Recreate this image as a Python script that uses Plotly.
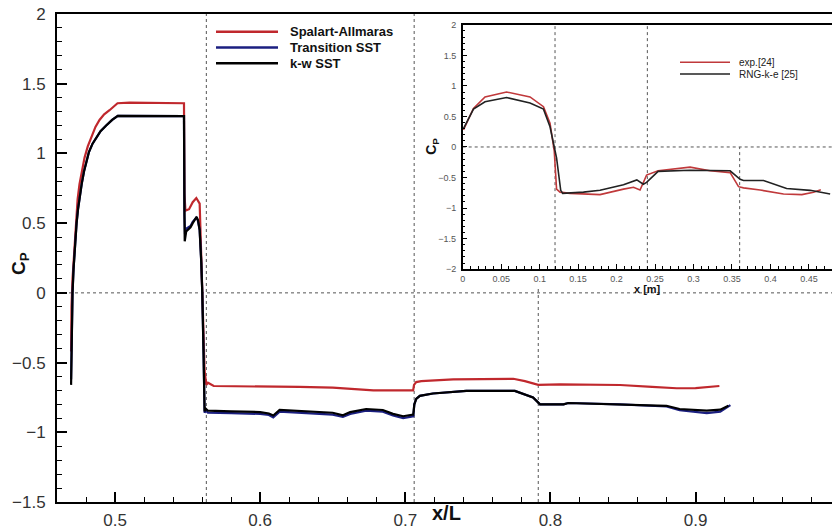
import plotly.graph_objects as go

# ---- main chart: pressure coefficient along the body (x/L) ----
sa_x = [0.4697, 0.4700, 0.4707, 0.4714, 0.4722, 0.4732, 0.4742, 0.4755, 0.4772, 0.4790, 0.4812,
        0.4836, 0.4865, 0.4893, 0.4925, 0.4962, 0.5017,
        0.5100, 0.5300, 0.5475, 0.5478, 0.5485, 0.5510, 0.5535, 0.5560, 0.5583, 0.5594, 0.5606,
        0.5617, 0.5629, 0.5640, 0.5680, 0.6000, 0.6270, 0.6500, 0.6780, 0.7054, 0.7060, 0.7075,
        0.7110, 0.7330, 0.7744, 0.7824, 0.7916, 0.8066, 0.8480, 0.8700, 0.8870, 0.9000, 0.9120,
        0.9164]
sa_y = [-0.42, -0.10, 0.10, 0.22, 0.40, 0.56, 0.67, 0.78, 0.88, 0.97, 1.05,
        1.12, 1.19, 1.24, 1.28, 1.31, 1.36,
        1.365, 1.36, 1.36, 0.71, 0.59, 0.60, 0.65, 0.68, 0.64, 0.26, -0.16,
        -0.56, -0.66, -0.645, -0.668, -0.670, -0.675, -0.680, -0.699, -0.699, -0.660, -0.640,
        -0.633, -0.621, -0.616, -0.633, -0.660, -0.656, -0.661, -0.675, -0.684, -0.683, -0.675,
        -0.668]

tsst_x = [0.4697, 0.4700, 0.4707, 0.4714, 0.4724, 0.4735, 0.4745, 0.4755, 0.4770, 0.4786,
          0.4801, 0.4820, 0.4845, 0.4870, 0.4900, 0.4939, 0.4980, 0.5019,
          0.5300, 0.5475, 0.5478, 0.5482, 0.5490, 0.5520, 0.5535, 0.5560, 0.5570, 0.5583,
          0.5594, 0.5601, 0.5610, 0.5617, 0.5625, 0.5640, 0.5800, 0.6000, 0.6060, 0.6090,
          0.6134, 0.6300, 0.6500, 0.6570, 0.6620, 0.6730, 0.6845, 0.6915, 0.6985, 0.7055,
          0.7062, 0.7075, 0.7100, 0.7190, 0.7330, 0.7420, 0.7755, 0.7810, 0.7880, 0.7928,
          0.8090, 0.8123, 0.8480, 0.8800, 0.8890, 0.9077, 0.9170, 0.9240]
tsst_y = [-0.62, -0.30, 0.00, 0.17, 0.36, 0.50, 0.60, 0.68, 0.78, 0.87,
          0.94, 1.01, 1.07, 1.11, 1.16, 1.20, 1.24, 1.27,
          1.27, 1.268, 0.55, 0.42, 0.46, 0.48, 0.51, 0.54, 0.52, 0.45,
          0.22, 0.00, -0.45, -0.86, -0.845, -0.860, -0.863, -0.868, -0.876, -0.893,
          -0.852, -0.862, -0.873, -0.890, -0.868, -0.845, -0.852, -0.880, -0.898, -0.885,
          -0.800, -0.760, -0.739, -0.722, -0.710, -0.703, -0.703, -0.722, -0.750, -0.800,
          -0.800, -0.790, -0.800, -0.815, -0.842, -0.862, -0.852, -0.805]

kw_x = [0.4697, 0.4700, 0.4707, 0.4714, 0.4724, 0.4735, 0.4745, 0.4755, 0.4770, 0.4786,
        0.4801, 0.4820, 0.4845, 0.4870, 0.4900, 0.4939, 0.4980, 0.5019,
        0.5300, 0.5475, 0.5478, 0.5480, 0.5490, 0.5520, 0.5535, 0.5562, 0.5572, 0.5583,
        0.5594, 0.5601, 0.5610, 0.5617, 0.5625, 0.5640, 0.5800, 0.6000, 0.6060, 0.6090,
        0.6134, 0.6300, 0.6500, 0.6570, 0.6620, 0.6730, 0.6845, 0.6915, 0.6985, 0.7055,
        0.7062, 0.7075, 0.7100, 0.7190, 0.7330, 0.7420, 0.7755, 0.7810, 0.7880, 0.7928,
        0.8090, 0.8123, 0.8480, 0.8800, 0.8890, 0.9077, 0.9170, 0.9226]
kw_y = [-0.66, -0.30, 0.00, 0.17, 0.36, 0.50, 0.60, 0.68, 0.78, 0.87,
        0.94, 1.01, 1.07, 1.11, 1.16, 1.20, 1.24, 1.27,
        1.27, 1.268, 0.60, 0.37, 0.44, 0.47, 0.50, 0.545, 0.52, 0.45,
        0.22, 0.00, -0.45, -0.85, -0.83, -0.845, -0.850, -0.855, -0.865, -0.880,
        -0.840, -0.850, -0.860, -0.878, -0.855, -0.833, -0.840, -0.868, -0.885, -0.873,
        -0.800, -0.760, -0.739, -0.722, -0.710, -0.703, -0.703, -0.722, -0.750, -0.800,
        -0.800, -0.790, -0.800, -0.810, -0.833, -0.845, -0.838, -0.810]

main_series = ["Spalart-Allmaras", "Transition SST", "k-w SST"]
main_colors = ["#c0282d", "#1b1f80", "#000000"]

# ---- inset: experimental data vs RNG k-epsilon (x in metres) ----
exp_x = [0.001, 0.014, 0.029, 0.057, 0.0875, 0.105, 0.1135, 0.119, 0.122, 0.1265, 0.1395,
         0.157, 0.1785, 0.209, 0.222, 0.2305, 0.239, 0.254, 0.2955, 0.3215, 0.3476, 0.3585,
         0.365, 0.3866, 0.417, 0.4408, 0.456, 0.4655]
exp_y = [0.28, 0.63, 0.82, 0.90, 0.82, 0.66, 0.39, -0.07, -0.69, -0.74, -0.76,
         -0.77, -0.78, -0.69, -0.66, -0.705, -0.46, -0.39, -0.33, -0.39, -0.42, -0.65,
         -0.67, -0.705, -0.77, -0.78, -0.74, -0.70]

rng_x = [0.001, 0.014, 0.029, 0.057, 0.0875, 0.105, 0.1135, 0.122, 0.1274, 0.130, 0.157,
         0.1785, 0.209, 0.2263, 0.2348, 0.239, 0.254, 0.2955, 0.3476, 0.3606, 0.365, 0.391,
         0.421, 0.4516, 0.4776]
rng_y = [0.30, 0.62, 0.74, 0.81, 0.72, 0.62, 0.33, -0.18, -0.71, -0.76, -0.74,
         -0.71, -0.62, -0.54, -0.61, -0.58, -0.40, -0.38, -0.39, -0.53, -0.55, -0.55,
         -0.68, -0.71, -0.77]

inset_series = ["exp.[24]", "RNG-k-e [25]"]
inset_colors = ["#c0393b", "#222222"]

W, H = 832, 530
ML, MR, MT, MB = 57, 0, 14, 20
PW, PH = W - ML - MR, H - MT - MB


def px(xp):
    return (xp - ML) / PW


def py(yp):
    return (H - MB - yp) / PH


FONT = "Liberation Sans, Arial, sans-serif"

fig = go.Figure()

for name, xs, ys, col in zip(main_series, [sa_x, tsst_x, kw_x], [sa_y, tsst_y, kw_y], main_colors):
    fig.add_trace(go.Scatter(x=xs, y=ys, mode="lines", name=name,
                             line=dict(color=col, width=2.2), xaxis="x", yaxis="y"))

for name, xs, ys, col in zip(inset_series, [exp_x, rng_x], [exp_y, rng_y], inset_colors):
    fig.add_trace(go.Scatter(x=xs, y=ys, mode="lines", name=name,
                             line=dict(color=col, width=1.6), xaxis="x2", yaxis="y2"))

grid = dict(color="#555555", width=1, dash="dot")
shapes = [
    # main chart reference lines
    dict(type="line", xref="x", yref="y", x0=0.46, x1=0.994, y0=0, y1=0, line=grid, layer="below"),
    dict(type="line", xref="x", yref="y", x0=0.5629, x1=0.5629, y0=-1.5, y1=2, line=grid, layer="below"),
    dict(type="line", xref="x", yref="y", x0=0.7061, x1=0.7061, y0=-1.5, y1=2, line=grid, layer="below"),
    dict(type="line", xref="x", yref="y", x0=0.7916, x1=0.7916, y0=-1.5, y1=0.03, line=grid, layer="below"),
    # inset reference lines
    dict(type="line", xref="x2", yref="y2", x0=0, x1=0.48, y0=0, y1=0, line=grid, layer="below"),
    dict(type="line", xref="x2", yref="y2", x0=0.12, x1=0.12, y0=-2, y1=2, line=grid, layer="below"),
    dict(type="line", xref="x2", yref="y2", x0=0.24, x1=0.24, y0=-2, y1=2, line=grid, layer="below"),
    dict(type="line", xref="x2", yref="y2", x0=0.36, x1=0.36, y0=-2, y1=0, line=grid, layer="below"),
]

annotations = []

# main legend
for i, (name, col) in enumerate(zip(main_series, main_colors)):
    yy = py(32 + 16 * i)
    shapes.append(dict(type="line", xref="paper", yref="paper", x0=px(216), x1=px(278),
                       y0=yy, y1=yy, line=dict(color=col, width=2.5)))
    annotations.append(dict(xref="paper", yref="paper", x=px(288), y=yy, text="<b>%s</b>" % name,
                            showarrow=False, xanchor="left", yanchor="middle",
                            font=dict(family=FONT, size=13, color="#111111")))

# inset legend
for i, (name, col) in enumerate(zip(inset_series, inset_colors)):
    yy = py(63 + 12 * i)
    shapes.append(dict(type="line", xref="paper", yref="paper", x0=px(680), x1=px(730),
                       y0=yy, y1=yy, line=dict(color=col, width=1.6)))
    annotations.append(dict(xref="paper", yref="paper", x=px(737), y=yy, text=name,
                            showarrow=False, xanchor="left", yanchor="middle",
                            font=dict(family=FONT, size=10, color="#222222")))

# axis titles
annotations += [
    dict(xref="paper", yref="paper", x=px(447), y=py(521), text="<b>x/L</b>", showarrow=False,
         xanchor="center", yanchor="middle", font=dict(family=FONT, size=20, color="#111111")),
    dict(xref="paper", yref="paper", x=px(20), y=py(268), text="<b>C<sub>P</sub></b>", showarrow=False,
         textangle=-90, xanchor="center", yanchor="middle", font=dict(family=FONT, size=19, color="#111111")),
    dict(xref="paper", yref="paper", x=px(647), y=py(294), text="<b>x [m]</b>", showarrow=False,
         xanchor="center", yanchor="middle", font=dict(family=FONT, size=11, color="#111111")),
    dict(xref="paper", yref="paper", x=px(432), y=py(149), text="<b>C<sub>P</sub></b>", showarrow=False,
         textangle=-90, xanchor="center", yanchor="middle", font=dict(family=FONT, size=14, color="#111111")),
]

main_ax = dict(showline=True, linewidth=2, linecolor="#000000", showgrid=False, zeroline=False,
               ticks="inside", ticklen=10, tickwidth=2, tickcolor="#000000",
               tickfont=dict(family=FONT, size=17, color="#333333"))
inset_ax = dict(showline=True, linewidth=1.5, linecolor="#000000", showgrid=False, zeroline=False,
                ticks="inside", ticklen=5, tickwidth=1.2, tickcolor="#000000",
                tickfont=dict(family=FONT, size=9, color="#555555"))

fig.update_layout(
    width=W, height=H,
    margin=dict(l=ML, r=MR, t=MT, b=MB, pad=0),
    paper_bgcolor="white", plot_bgcolor="white",
    showlegend=False,
    xaxis=dict(main_ax, range=[0.46, 0.994], domain=[0, 1], tick0=0.5, dtick=0.1, mirror=True,
               anchor="y", ticklabelstandoff=2,
               minor=dict(tick0=0.5, dtick=0.02, ticks="inside", ticklen=5, tickwidth=1.2,
                          tickcolor="#000000", showgrid=False)),
    yaxis=dict(main_ax, range=[-1.5, 2], domain=[0, 1], tick0=0, dtick=0.5, anchor="x",
               ticklabelstandoff=6,
               minor=dict(tick0=0, dtick=0.1, ticks="inside", ticklen=5, tickwidth=1.2,
                          tickcolor="#000000", showgrid=False)),
    xaxis2=dict(inset_ax, range=[0, 0.48], domain=[px(462.7), 1.0], tick0=0, dtick=0.05,
                mirror=True, anchor="y2", ticklabelstandoff=0,
                minor=dict(tick0=0, dtick=0.01, ticks="inside", ticklen=3, tickwidth=1,
                           tickcolor="#000000", showgrid=False)),
    yaxis2=dict(inset_ax, range=[-2, 2], domain=[py(273.3), py(25)], tick0=0, dtick=0.5,
                anchor="x2", ticklabelstandoff=3,
                minor=dict(tick0=0, dtick=0.1, ticks="inside", ticklen=3, tickwidth=1,
                           tickcolor="#000000", showgrid=False)),
    shapes=shapes,
    annotations=annotations,
)

fig.write_html("out.html")
